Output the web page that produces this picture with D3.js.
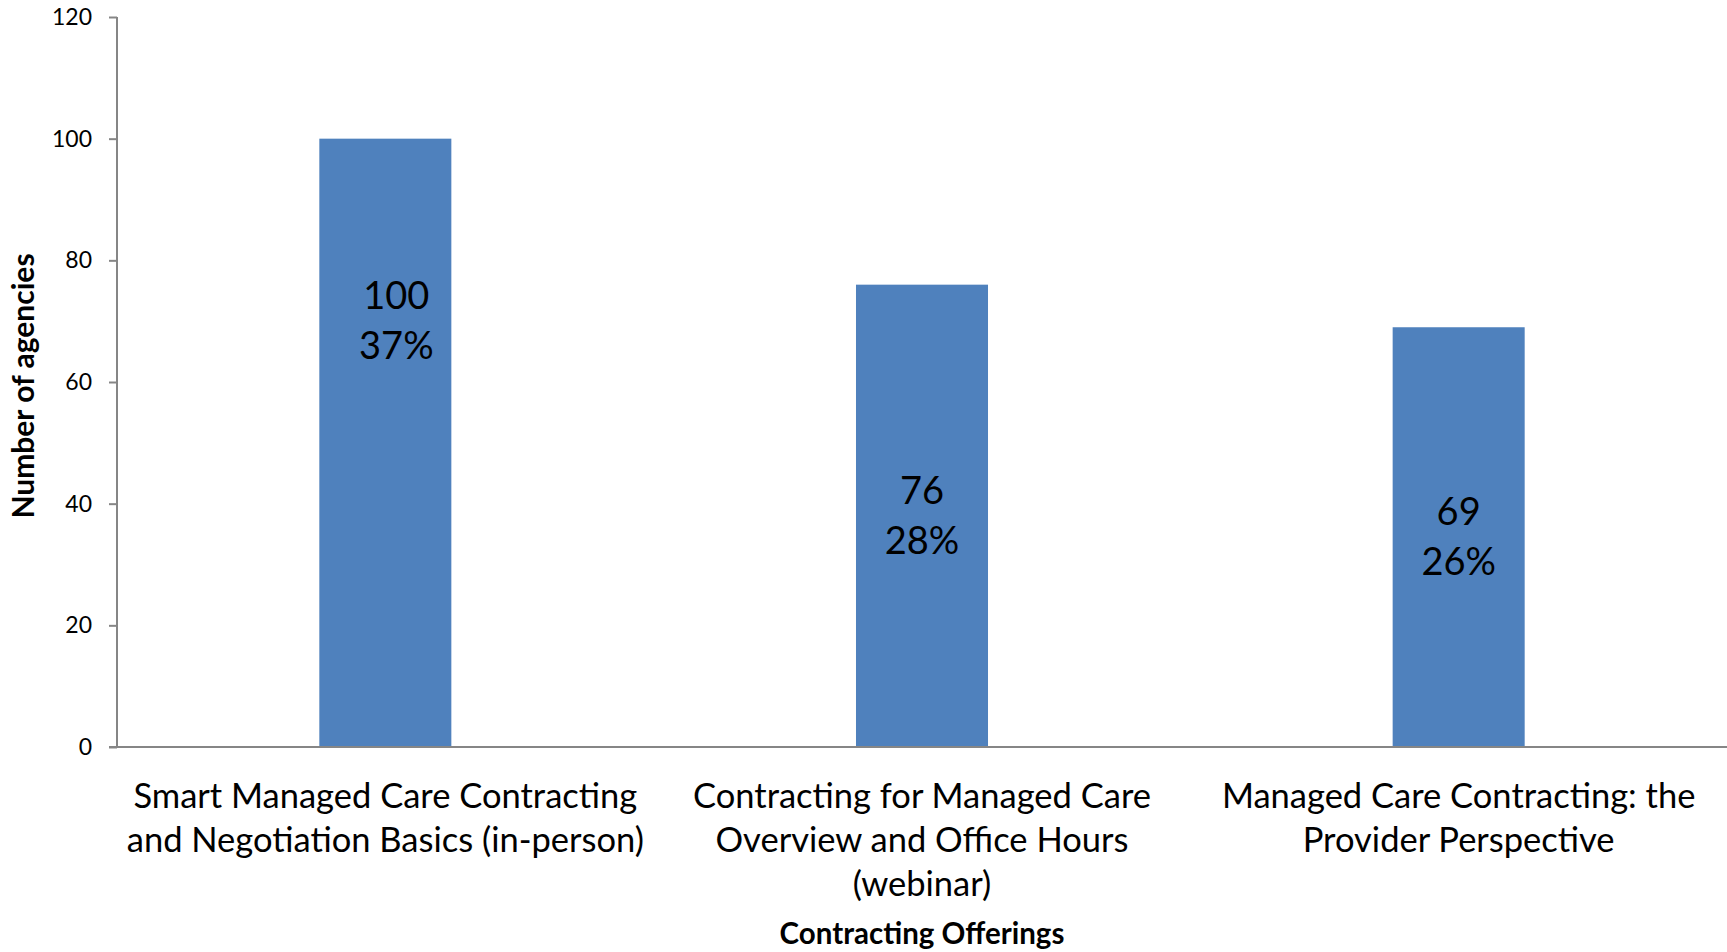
<!DOCTYPE html>
<html>
<head>
<meta charset="utf-8">
<script src="https://cdn.jsdelivr.net/npm/d3@7"></script>
<style>
  body { margin: 0; background: #fff; }
  text { font-family: Lato, 'Open Sans', sans-serif; fill: #000; }
</style>
</head>
<body>
<svg id="chart" width="1727" height="952"></svg>
<script>
// data
const categories = [
    ['Smart Managed Care Contracting', 'and Negotiation Basics (in-person)'],
    ['Contracting for Managed Care', 'Overview and Office Hours', '(webinar)'],
    ['Managed Care Contracting: the', 'Provider Perspective']
];
const counts = [100, 76, 69];
const percents = ['37%', '28%', '26%'];
const yTicks = [0, 20, 40, 60, 80, 100, 120];

const svg = d3.select('#chart');
const width = +svg.attr('width');
const height = +svg.attr('height');
const margin = { top: 17, right: 0, bottom: 205, left: 117 };
const innerWidth = width - margin.left - margin.right;
const innerHeight = height - margin.top - margin.bottom;
const barColor = '#4f81bd';
const axisColor = '#868686';

const g = svg.append('g')
    .attr('transform', `translate(${margin.left},${margin.top})`);

const x = d3.scaleBand()
    .domain(d3.range(counts.length))
    .range([0, innerWidth]);
const barWidth = x.bandwidth() * 0.246;

const y = d3.scaleLinear()
    .domain([0, 120])
    .range([innerHeight, 0]);

// y axis
const yAxis = g.append('g')
    .call(d3.axisLeft(y).tickValues(yTicks).tickSize(8).tickPadding(17));
yAxis.select('.domain').remove();
yAxis.selectAll('.tick line').attr('stroke', axisColor).attr('stroke-width', 2);
yAxis.selectAll('.tick text').style('font-size', '23px').attr('fill', '#000');
g.append('line')
    .attr('x1', 0).attr('x2', 0)
    .attr('y1', y(120)).attr('y2', y(0))
    .attr('stroke', axisColor).attr('stroke-width', 2);

// bars
g.selectAll('rect.bar')
    .data(counts)
    .enter()
    .append('rect')
    .attr('class', 'bar')
    .attr('x', (d, i) => x(i) + x.bandwidth() / 2 - barWidth / 2)
    .attr('width', barWidth)
    .attr('y', d => y(d))
    .attr('height', d => y(0) - y(d))
    .attr('fill', barColor);

// x axis line
g.append('line')
    .attr('x1', -8).attr('x2', innerWidth)
    .attr('y1', y(0)).attr('y2', y(0))
    .attr('stroke', axisColor).attr('stroke-width', 2);

// value labels (first one was lifted by hand in the original)
const labelNudge = [[11, -122], [0, 0], [0, 0]];
counts.forEach((c, i) => {
    const cx = x(i) + x.bandwidth() / 2 + labelNudge[i][0];
    const cy = (y(c) + y(0)) / 2 + labelNudge[i][1];
    const t = g.append('text')
        .attr('text-anchor', 'middle')
        .style('font-size', '38px');
    t.append('tspan').attr('x', cx).attr('y', cy - 12).text(c);
    t.append('tspan').attr('x', cx).attr('y', cy + 38).text(percents[i]);
});

// category labels
categories.forEach((lines, i) => {
    const cx = x(i) + x.bandwidth() / 2;
    const t = g.append('text')
        .attr('text-anchor', 'middle')
        .style('font-size', '34.5px');
    lines.forEach((line, j) => {
        t.append('tspan').attr('x', cx).attr('y', y(0) + 61 + j * 44).text(line);
    });
});

// axis titles
svg.append('text')
    .attr('transform', `translate(34,${margin.top + y(60) + 4}) rotate(-90)`)
    .attr('text-anchor', 'middle')
    .style('font-size', '30px')
    .style('font-weight', 'bold')
    .text('Number of agencies');

svg.append('text')
    .attr('x', margin.left + innerWidth / 2)
    .attr('y', 944)
    .attr('text-anchor', 'middle')
    .style('font-size', '29.5px')
    .style('font-weight', 'bold')
    .text('Contracting Offerings');
</script>
</body>
</html>
